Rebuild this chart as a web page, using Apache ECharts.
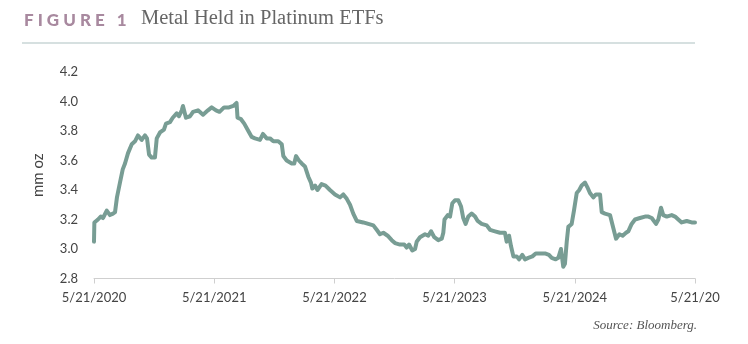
<!DOCTYPE html>
<html>
<head>
<meta charset="utf-8">
<script src="https://cdn.jsdelivr.net/npm/echarts@6/dist/echarts.min.js"></script>
<style>
html,body{margin:0;padding:0;background:#fff;}
#c{width:748px;height:344px;}
</style>
</head>
<body>
<div id="c"></div>
<script>
// Years elapsed since 5/21/2020
const years = [0,0.003,0.033,0.056,0.075,0.106,0.133,0.158,0.175,0.191,0.216,0.239,0.258,0.283,0.314,0.341,0.366,0.397,0.424,0.441,0.458,0.480,0.507,0.522,0.549,0.582,0.599,0.632,0.655,0.688,0.707,0.730,0.740,0.765,0.799,0.824,0.865,0.907,0.948,0.979,1.015,1.044,1.082,1.123,1.159,1.186,1.194,1.223,1.250,1.284,1.312,1.339,1.381,1.406,1.437,1.464,1.492,1.533,1.562,1.575,1.603,1.645,1.666,1.681,1.705,1.728,1.755,1.783,1.805,1.816,1.839,1.859,1.893,1.926,1.963,2.005,2.047,2.074,2.103,2.130,2.157,2.186,2.199,2.240,2.282,2.324,2.352,2.379,2.407,2.443,2.477,2.504,2.546,2.581,2.601,2.621,2.648,2.671,2.685,2.712,2.754,2.781,2.804,2.831,2.864,2.893,2.906,2.916,2.943,2.962,2.981,3.003,3.031,3.053,3.072,3.092,3.114,3.142,3.170,3.192,3.225,3.267,3.295,3.336,3.378,3.419,3.433,3.453,3.469,3.489,3.517,3.536,3.563,3.586,3.613,3.647,3.675,3.697,3.725,3.752,3.785,3.808,3.841,3.863,3.885,3.896,3.904,3.918,3.933,3.946,3.974,3.993,4.016,4.037,4.057,4.085,4.104,4.126,4.154,4.176,4.210,4.224,4.251,4.293,4.315,4.343,4.371,4.398,4.426,4.445,4.473,4.501,4.542,4.584,4.612,4.640,4.676,4.695,4.717,4.736,4.765,4.806,4.834,4.861,4.889,4.931,4.972,5.0];
// Metal held, mm oz
const holdings = [3.05,3.18,3.20,3.22,3.21,3.26,3.23,3.24,3.25,3.35,3.45,3.54,3.58,3.65,3.71,3.73,3.77,3.74,3.77,3.75,3.64,3.62,3.62,3.75,3.79,3.81,3.85,3.86,3.89,3.92,3.90,3.94,3.97,3.89,3.90,3.93,3.94,3.91,3.94,3.96,3.94,3.93,3.96,3.96,3.97,3.99,3.89,3.88,3.85,3.80,3.76,3.75,3.74,3.78,3.75,3.75,3.73,3.73,3.71,3.63,3.60,3.58,3.58,3.63,3.60,3.58,3.56,3.49,3.45,3.41,3.43,3.40,3.44,3.43,3.40,3.37,3.35,3.37,3.34,3.30,3.24,3.19,3.20,3.18,3.17,3.16,3.13,3.10,3.11,3.09,3.06,3.04,3.03,3.03,3.01,3.03,2.99,3.00,3.05,3.08,3.10,3.09,3.12,3.08,3.06,3.07,3.11,3.20,3.23,3.22,3.31,3.33,3.33,3.29,3.21,3.17,3.22,3.24,3.22,3.19,3.17,3.16,3.13,3.12,3.11,3.11,3.05,3.09,3.02,2.95,2.95,2.93,2.96,2.93,2.94,2.95,2.97,2.97,2.97,2.97,2.96,2.94,2.93,2.94,3.00,2.93,2.88,2.90,3.05,3.15,3.17,3.26,3.38,3.40,3.43,3.45,3.42,3.38,3.35,3.37,3.37,3.25,3.24,3.23,3.16,3.07,3.10,3.09,3.11,3.12,3.17,3.20,3.21,3.22,3.22,3.21,3.17,3.20,3.28,3.23,3.22,3.23,3.22,3.20,3.18,3.19,3.18,3.18];
const xTickLabels = ['5/21/2020','5/21/2021','5/21/2022','5/21/2023','5/21/2024','5/21/20'];
const yTicks = [2.8,3.0,3.2,3.4,3.6,3.8,4.0,4.2];

const chart = echarts.init(document.getElementById('c'), null, {renderer:'canvas'});
const sans = 'Lato, "Open Sans", sans-serif';
const serif = '"Liberation Serif", "DejaVu Serif", serif';
chart.setOption({
  animation:false,
  backgroundColor:'#fff',
  grid:{left:94,right:53,top:72,bottom:65.5,containLabel:false},
  xAxis:{
    type:'value', min:0, max:5, interval:1,
    axisLine:{show:true,lineStyle:{color:'#cfcfcf',width:1}},
    axisTick:{show:true,length:5,lineStyle:{color:'#cfcfcf'}},
    splitLine:{show:false},
    axisLabel:{color:'#444',fontFamily:sans,fontSize:13,margin:13,
      formatter:function(v){return xTickLabels[Math.round(v)];}}
  },
  yAxis:{
    type:'value', min:yTicks[0], max:yTicks[yTicks.length-1], interval:0.2,
    name:'mm oz', nameLocation:'middle', nameGap:48, nameRotate:90,
    nameTextStyle:{color:'#444',fontFamily:sans,fontSize:15},
    axisLine:{show:false}, axisTick:{show:false}, splitLine:{show:false},
    axisLabel:{color:'#444',fontFamily:sans,fontSize:13,margin:16,
      formatter:function(v){return v.toFixed(1);}}
  },
  series:[{
    type:'line', showSymbol:false, symbol:'none',
    data: years.map((t,i)=>[t,holdings[i]]),
    lineStyle:{color:'#789d94',width:4,join:'round',cap:'round'},
    z:3
  }],
  graphic:[
    {type:'text',left:24,top:12,style:{text:'F I G U R E   1',fill:'#a8899f',font:'900 17px '+sans}},
    {type:'text',left:141,top:8,style:{text:'Metal Held in Platinum ETFs',fill:'#666',font:'20.5px '+serif}},
    {type:'line',shape:{x1:22,y1:43,x2:695,y2:43},style:{stroke:'#c9d6d6',lineWidth:1.5}},
    {type:'text',right:51,top:319,style:{text:'Source: Bloomberg.',fill:'#555',font:'italic 13px '+serif}}
  ]
});
</script>
</body>
</html>
